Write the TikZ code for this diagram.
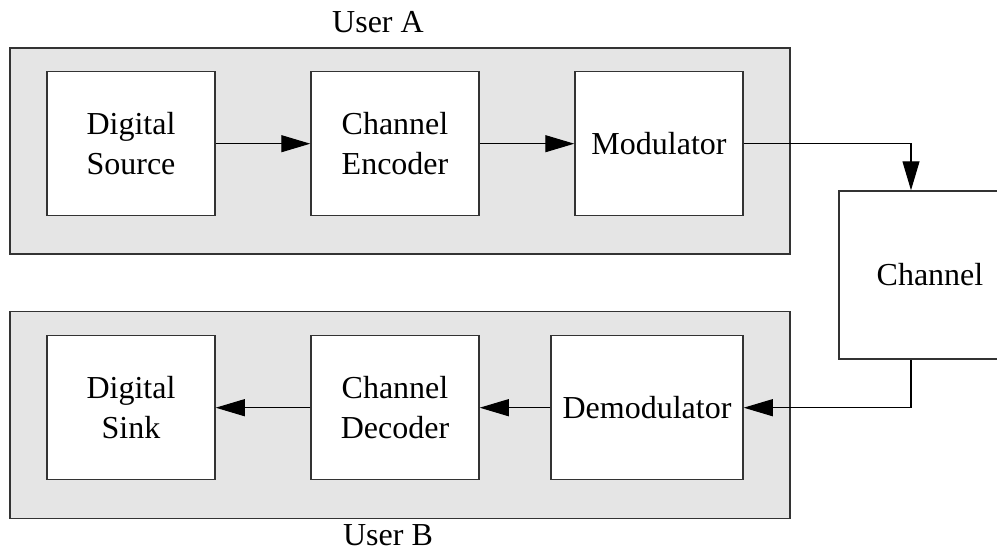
\documentclass[tikz,border=0pt]{standalone}
\usepackage{fontspec}
\setmainfont{Liberation Serif}
\usetikzlibrary{positioning,arrows.meta}

\begin{document}
\begin{tikzpicture}[x=1pt,y=-1pt,
    blk/.style={draw=black!80, line width=1.5pt, fill=white, inner sep=0pt,
      minimum width=168pt, minimum height=144pt, align=center,
      font=\fontsize{32}{40}\selectfont},
    usr/.style={draw=black!80, line width=1.5pt, fill=black!10},
    lbl/.style={anchor=base, font=\fontsize{32}{40}\selectfont},
    sig/.style={line width=1.1pt, -{Triangle[length=29pt,width=17pt]}}]
  \clip (0,0) rectangle (997,552);
  % User A side
  \draw[usr] (10,48) rectangle (790,254);
  \node[lbl] (userA) at (378,32) {User A};
  \node[blk] (src) at (131,143.7) {Digital\\Source};
  \node[blk] (enc) at (395,143.7) {Channel\\Encoder};
  \node[blk] (mod) at (659,143.7) {Modulator};
  % User B side
  \draw[usr] (10,311.7) rectangle (790,518.3);
  \node[lbl] (userB) at (388,545) {User B};
  \node[blk] (sink) at (131,407.7) {Digital\\Sink};
  \node[blk] (dec) at (395,407.7) {Channel\\Decoder};
  \node[blk, minimum width=192pt] (demod) at (647,407.7) {Demodulator};
  % Channel
  \node[blk, minimum width=182pt, minimum height=168pt] (chan) at (930,275) {Channel};
  \coordinate (chanIn) at ([xshift=-19pt]chan.north);
  \coordinate (chanOut) at ([xshift=-19pt]chan.south);
  % signal flow
  \draw[sig] (src) -- (enc);
  \draw[sig] (enc) -- (mod);
  \draw[sig] (mod.east) -| (chanIn);
  \draw[sig] (chanOut) |- (demod.east);
  \draw[sig] (demod) -- (dec);
  \draw[sig] (dec) -- (sink);
\end{tikzpicture}
\end{document}
